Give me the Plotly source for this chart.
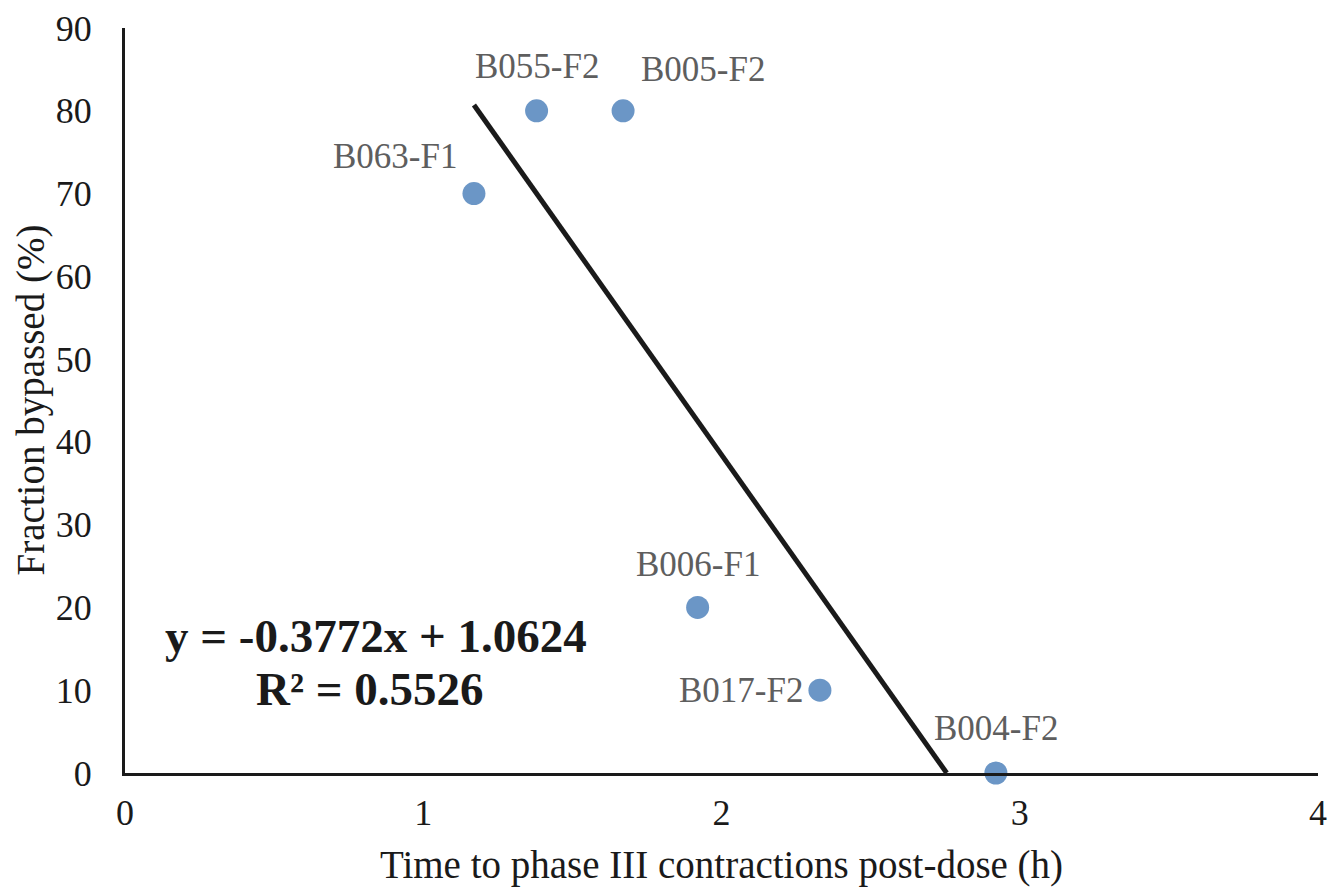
import plotly.graph_objects as go

# Data
samples = ["B063-F1", "B055-F2", "B005-F2", "B006-F1", "B017-F2", "B004-F2"]
time_h = [1.17, 1.38, 1.67, 1.92, 2.33, 2.92]
fraction_pct = [70, 80, 80, 20, 10, 0]

trend_x = [1.17, 2.755]
trend_y = [80.7, 0]

x_title = "Time to phase III contractions post-dose (h)"
y_title = "Fraction bypassed (%)"
equation_line1 = "y = -0.3772x + 1.0624"
equation_line2 = "R² = 0.5526"

# label offsets (pixels)
label_shift = {
    "B063-F1": (-79, 37),
    "B055-F2": (0, 44),
    "B005-F2": (80, 41),
    "B006-F1": (0, 43),
    "B017-F2": (-79, 0),
    "B004-F2": (0, 45),
}

serif = "Liberation Serif, Times New Roman, serif"
ink = "#1a1a1a"

fig = go.Figure()
fig.add_trace(go.Scatter(
    x=trend_x, y=trend_y, mode="lines",
    line=dict(color=ink, width=5),
    showlegend=False, hoverinfo="skip", cliponaxis=False,
))
fig.add_trace(go.Scatter(
    x=time_h, y=fraction_pct, mode="markers",
    marker=dict(color="#6b96c6", size=23),
    showlegend=False, cliponaxis=False,
))

for s, xv, yv in zip(samples, time_h, fraction_pct):
    dx, dy = label_shift[s]
    fig.add_annotation(
        x=xv, y=yv, xref="x", yref="y", text=s, showarrow=False,
        xshift=dx, yshift=dy, xanchor="center", yanchor="middle",
        font=dict(family=serif, size=35, color="#5e5e5e"),
    )

fig.add_annotation(
    x=0.84, y=16.6, xref="x", yref="y", text=equation_line1, showarrow=False,
    xanchor="center", yanchor="middle",
    font=dict(family=serif, size=47, color=ink, weight="bold"),
)
fig.add_annotation(
    x=0.82, y=10.1, xref="x", yref="y", text=equation_line2, showarrow=False,
    xanchor="center", yanchor="middle",
    font=dict(family=serif, size=47, color=ink, weight="bold"),
)

# axis titles
fig.add_annotation(
    x=0.5, y=-0.1235, xref="paper", yref="paper", text=x_title, showarrow=False,
    xanchor="center", yanchor="middle",
    font=dict(family=serif, size=39, color=ink),
)
fig.add_annotation(
    x=-0.0796, y=0.5, xref="paper", yref="paper", text=y_title, showarrow=False,
    xanchor="center", yanchor="middle",
    textangle=-90, font=dict(family=serif, size=39, color=ink),
)

fig.update_layout(
    width=1329, height=892,
    margin=dict(l=125, r=11, t=28, b=119, autoexpand=False),
    paper_bgcolor="white", plot_bgcolor="white",
    font=dict(family=serif, color=ink),
)
fig.update_xaxes(
    range=[0, 4], tickvals=[0, 1, 2, 3, 4], showgrid=False, zeroline=False,
    showline=True, linecolor=ink, linewidth=3, ticks="", automargin=False,
    tickfont=dict(family=serif, size=36, color=ink),
    ticklabelstandoff=6,
)
fig.update_yaxes(
    range=[0, 90], tickvals=list(range(0, 100, 10)), showgrid=False, zeroline=False,
    showline=True, linecolor=ink, linewidth=3, ticks="", automargin=False,
    tickfont=dict(family=serif, size=36, color=ink),
    ticklabelstandoff=23,
)

fig.write_html(
    "out.html",
    config={"displayModeBar": False},
    post_script="document.body.style.margin='0';document.body.style.overflow='hidden';",
)
